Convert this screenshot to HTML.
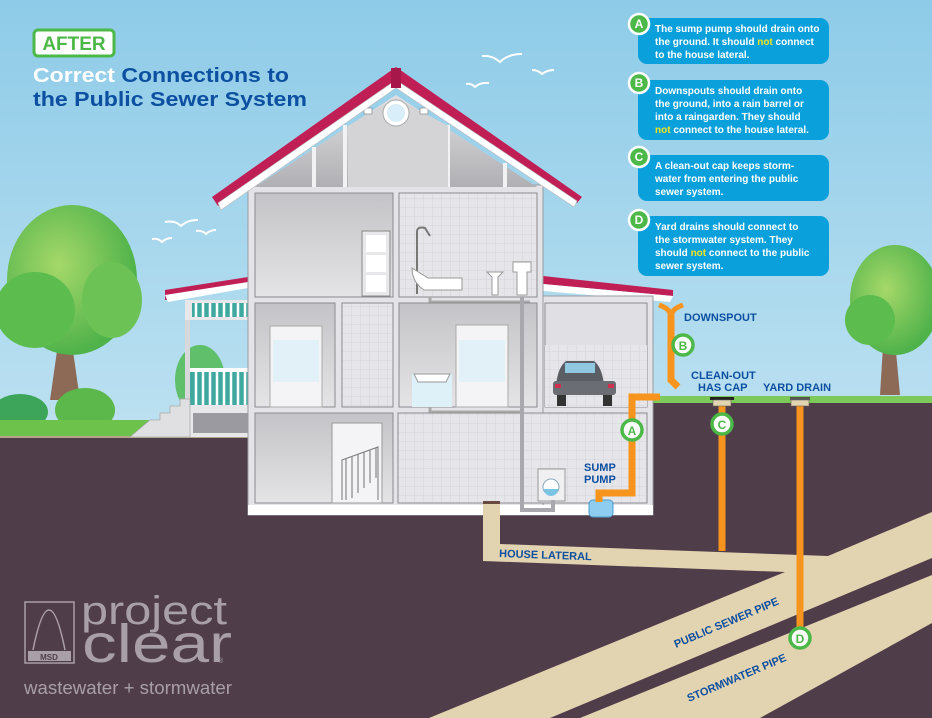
<!DOCTYPE html>
<html><head><meta charset="utf-8"><style>
html,body{margin:0;padding:0;background:#fff}
svg{display:block}
text{font-family:"Liberation Sans",sans-serif;font-weight:bold}
text.n{font-weight:normal}
</style></head><body>
<svg width="932" height="718" viewBox="0 0 932 718" xmlns="http://www.w3.org/2000/svg">
<defs>
<linearGradient id="sky" x1="0" y1="0" x2="0" y2="1">
<stop offset="0" stop-color="#8ecbe8"/><stop offset="0.55" stop-color="#b8dff0"/><stop offset="1" stop-color="#e6f3f9"/></linearGradient>
<linearGradient id="room" x1="0" y1="0" x2="0" y2="1">
<stop offset="0" stop-color="#c4c4c8"/><stop offset="1" stop-color="#e4e4e6"/></linearGradient>
<linearGradient id="attic" x1="0" y1="0" x2="0" y2="1">
<stop offset="0" stop-color="#e0e0e2"/><stop offset="1" stop-color="#b0b0b4"/></linearGradient>
<pattern id="tile" width="9" height="9" patternUnits="userSpaceOnUse">
<rect width="9" height="9" fill="#e6e6ea"/><path d="M0 0H9M0 0V9" stroke="#cfcfd4" stroke-width="0.8"/></pattern>
<radialGradient id="tree" cx="0.4" cy="0.4" r="0.6"><stop offset="0" stop-color="#a6d86a"/><stop offset="1" stop-color="#4fb24a"/></radialGradient>
</defs>
<rect width="932" height="718" fill="url(#sky)"/>

<g stroke="#fff" stroke-width="2" fill="none">
<path d="M165 222 q10 -2 16 4 q6 -6 17 -6"/><path d="M196 231 q6 -1 10 3 q4 -4 10 -4"/><path d="M152 239 q6 -1 10 3 q4 -4 10 -4"/>
<path d="M482 56 q10 -1 18 6 q8 -8 22 -8"/><path d="M532 70 q6 0 10 4 q5 -4 12 -4"/><path d="M466 84 q5 -1 9 3 q5 -5 14 -4"/>
</g>

<path d="M50 400 L60 330 L70 330 L80 400Z" fill="#8c6a56"/>
<path d="M60 345 L40 325 M72 345 L100 318" stroke="#8c6a56" stroke-width="5"/>
<ellipse cx="72" cy="280" rx="65" ry="75" fill="url(#tree)"/>
<ellipse cx="35" cy="310" rx="40" ry="38" fill="#5cbc4e"/>
<ellipse cx="112" cy="300" rx="30" ry="38" fill="#6cc255"/>
<path d="M880 395 L884 330 L894 330 L900 395Z" fill="#8c6a56"/>
<ellipse cx="895" cy="300" rx="45" ry="55" fill="url(#tree)"/>
<ellipse cx="870" cy="320" rx="25" ry="25" fill="#5cbc4e"/>
<ellipse cx="20" cy="412" rx="28" ry="18" fill="#3da55a"/>
<ellipse cx="85" cy="410" rx="30" ry="22" fill="#5db84c"/>
<ellipse cx="200" cy="380" rx="25" ry="35" fill="#5fbf6a"/>

<rect x="0" y="420" width="170" height="17" fill="#6cc24a"/>
<rect x="652" y="396" width="280" height="8" fill="#7dc95a"/>
<path d="M0 437 H248 V403 H932 V718 H0Z" fill="#4f3e4a"/>
<rect x="0" y="436" width="248" height="2" fill="#b5a58a"/>

<path d="M165 290 L248 277 L248 285 L165 300Z" fill="#c01f56"/>
<path d="M165 295 L248 282 L248 288 L168 302Z" fill="#fff"/>
<rect x="185" y="300" width="63" height="20" fill="#e8e8ea"/>
<rect x="192" y="303" width="56" height="14" fill="#3fa9a0"/>
<g stroke="#fff" stroke-width="2.5"><path d="M196 303V317M203 303V317M210 303V317M217 303V317M224 303V317M231 303V317M238 303V317M245 303V317"/></g>
<rect x="185" y="320" width="5" height="117" fill="#d8d8da"/>
<rect x="190" y="368" width="58" height="37" fill="#3fa9a0"/>
<g stroke="#fff" stroke-width="2.5"><path d="M196 372V405M203 372V405M210 372V405M217 372V405M224 372V405M231 372V405M238 372V405M245 372V405"/></g>
<rect x="190" y="368" width="58" height="4" fill="#fff"/>
<rect x="190" y="405" width="58" height="32" fill="#e8e8ea"/>
<rect x="193" y="413" width="55" height="20" fill="#9a9aa0"/>
<path d="M130 437 L150 420 H160 V413 H170 V406 H180 V399 H190 V437Z" fill="#e0e0e2" stroke="#aaa" stroke-width="0.8"/>

<path d="M543 276 L673 290 L673 296 L543 284Z" fill="#c01f56"/>
<path d="M543 284 L673 296 L670 302 L543 291Z" fill="#fff"/>

<rect x="248" y="185" width="295" height="330" fill="#e4e4e8" stroke="#9a9aa0"/>
<rect x="543" y="296" width="110" height="219" fill="#e4e4e8" stroke="#9a9aa0"/>
<rect x="248" y="505" width="405" height="10" fill="#fff"/>
<path d="M255 187 L396 95 L537 187Z" fill="url(#attic)"/>
<path d="M314 187 V147 M345 187 V125 M448 187 V125 M505 187 V163" stroke="#f2f2f4" stroke-width="4"/>
<path d="M396 98 L348 126 V187 H448 V126Z" fill="#d4d4d7"/>
<circle cx="396" cy="113" r="13" fill="#fff" stroke="#aaa"/><circle cx="396" cy="113" r="9" fill="#d8eef8"/>
<rect x="364" y="108" width="8" height="6" fill="#fff" stroke="#888" stroke-width="0.7"/>
<rect x="420" y="108" width="8" height="6" fill="#fff" stroke="#888" stroke-width="0.7"/>
<path d="M212 197 L396 67 L582 197 L577 203 L396 80 L218 206Z" fill="#c01f56"/>
<path d="M218 203 L396 80 L577 201 L574 207 L396 88 L221 210Z" fill="#fff" stroke="#bbb" stroke-width="0.6"/>
<rect x="391" y="68" width="10" height="20" fill="#a8174a"/>

<rect x="255" y="193" width="138" height="104" fill="url(#room)" stroke="#8a8a90"/>
<rect x="399" y="193" width="138" height="104" fill="url(#tile)" stroke="#8a8a90"/>
<rect x="362" y="231" width="28" height="65" fill="#e8e8ea" stroke="#888"/>
<rect x="366" y="235" width="20" height="17" fill="#fff"/><rect x="366" y="255" width="20" height="17" fill="#fff"/><rect x="366" y="275" width="20" height="17" fill="#fff"/>
<path d="M417 294 V232 q0 -6 8 -4 L430 236" stroke="#777" stroke-width="2" fill="none"/>
<path d="M412 268 L428 278 H462 L462 290 H424 Q412 282 412 268Z" fill="#fff" stroke="#999"/>
<path d="M487 272 h16 l-5 5 v18 h-6 v-18z" fill="#fff" stroke="#999"/>
<path d="M513 262 h18 v10 h-4 v23 h-10 v-23 h-4z" fill="#fff" stroke="#999"/>
<path d="M430 297 V302 H530" stroke="#aaa" stroke-width="3" fill="none"/>

<rect x="255" y="303" width="80" height="104" fill="url(#room)" stroke="#8a8a90"/>
<rect x="342" y="303" width="51" height="104" fill="url(#tile)" stroke="#8a8a90"/>
<rect x="399" y="303" width="138" height="104" fill="url(#room)" stroke="#8a8a90"/>
<rect x="545" y="303" width="102" height="104" fill="#e0e0e4" stroke="#8a8a90"/>
<rect x="545" y="345" width="102" height="62" fill="url(#tile)"/>
<rect x="270" y="326" width="52" height="81" fill="#f4f4f6" stroke="#aaa"/>
<rect x="273" y="340" width="46" height="42" fill="#e2f1f8"/>
<rect x="456" y="325" width="52" height="82" fill="#f4f4f6" stroke="#aaa"/>
<rect x="459" y="340" width="46" height="42" fill="#e2f1f8"/>
<rect x="412" y="374" width="40" height="33" fill="#def0f8"/>
<path d="M414 374 h36 l-4 8 h-28z" fill="#fff" stroke="#999"/>
<path d="M556 385 q2 -18 10 -24 h28 q8 6 10 24z" fill="#5b5d64"/>
<rect x="565" y="363" width="30" height="10" fill="#8fc8e0"/>
<rect x="553" y="381" width="63" height="14" rx="3" fill="#6b6d74"/>
<rect x="557" y="395" width="9" height="11" fill="#333"/><rect x="603" y="395" width="9" height="11" fill="#333"/>
<rect x="555" y="384" width="6" height="4" fill="#d03050"/><rect x="608" y="384" width="6" height="4" fill="#d03050"/>
<path d="M430 407 V412 H520" stroke="#aaa" stroke-width="3" fill="none"/>

<rect x="255" y="413" width="138" height="90" fill="url(#room)" stroke="#8a8a90"/>
<rect x="398" y="413" width="249" height="90" fill="url(#tile)" stroke="#8a8a90"/>
<rect x="332" y="423" width="50" height="80" fill="#f4f4f6" stroke="#999"/>
<path d="M342 500 V460 L378 447 V500" fill="none" stroke="#777" stroke-width="1"/>
<g stroke="#888" stroke-width="1.2"><path d="M346 458V500M352 456V498M358 454V493M364 452V488M370 450V483M376 448V478"/></g>
<rect x="538" y="469" width="27" height="32" fill="#f0f0f2" stroke="#999"/>
<circle cx="551" cy="487" r="8" fill="#fff" stroke="#8ab"/><path d="M544 489 h14 a7 7 0 0 1 -14 0z" fill="#7cc4e4"/>
<path d="M522 297 V510 H553 V500" stroke="#a8a8ae" stroke-width="4" fill="none"/>

<path d="M483 503 H500 V544 L828 556 L932 512 V558 L550 718 H429 L785 572 L483 561Z" fill="#e3d4b1"/>
<rect x="483" y="501" width="17" height="3" fill="#6a4a40"/>
<path d="M580 718 L932 575 V623 L760 718Z" fill="#e3d4b1"/>

<rect x="589" y="500" width="24" height="17" rx="4" fill="#8fcdf0" stroke="#4a9ccc"/>
<g stroke="#f7941d" stroke-width="7" fill="none">
<path d="M599 502 V493 H632 V397 H660"/>
<path d="M671 312 V380 L678 387"/>
<path d="M722 405 V551"/>
<path d="M800 405 V628"/>
</g>
<path d="M659 305 q12 4 12 12 q0 -8 12 -12" stroke="#f7941d" stroke-width="5" fill="none"/>
<rect x="710" y="397" width="24" height="3" fill="#222"/><rect x="713" y="400" width="18" height="6" fill="#e3d4b1" stroke="#665" stroke-width="0.6"/>
<rect x="790" y="397" width="20" height="3" fill="#555"/><rect x="791" y="400" width="18" height="6" fill="#e3d4b1" stroke="#665" stroke-width="0.6"/>

<g font-size="12" text-anchor="middle">
<circle cx="632" cy="430" r="10" fill="#fff" stroke="#4cb848" stroke-width="3.5"/><text x="632" y="435" fill="#4cb848">A</text>
<circle cx="683" cy="345" r="10" fill="#fff" stroke="#4cb848" stroke-width="3.5"/><text x="683" y="350" fill="#4cb848">B</text>
<circle cx="722" cy="424" r="10" fill="#fff" stroke="#4cb848" stroke-width="3.5"/><text x="722" y="429" fill="#4cb848">C</text>
<circle cx="800" cy="638" r="10" fill="#fff" stroke="#4cb848" stroke-width="3.5"/><text x="800" y="643" fill="#4cb848">D</text>
</g>

<g fill="#0d4fa0" font-size="11">
<text x="684" y="321">DOWNSPOUT</text>
<text x="691" y="379">CLEAN-OUT</text>
<text x="698" y="391">HAS CAP</text>
<text x="763" y="391">YARD DRAIN</text>
<text x="584" y="471">SUMP</text>
<text x="584" y="483">PUMP</text>
<text x="499" y="557" transform="rotate(2 499 557)">HOUSE LATERAL</text>
<text x="676" y="648" transform="rotate(-23 676 648)">PUBLIC SEWER PIPE</text>
<text x="689" y="702" transform="rotate(-23 689 702)">STORMWATER PIPE</text>
</g>

<rect x="34" y="30" width="80" height="26" rx="4" fill="#fff" stroke="#4cb848" stroke-width="3"/>
<text x="74" y="50" font-size="19" fill="#4cb848" text-anchor="middle">AFTER</text>
<text x="33" y="82" font-size="20" fill="#0d4fa0" textLength="256" lengthAdjust="spacingAndGlyphs"><tspan fill="#fff">Correct</tspan> Connections to</text>
<text x="33" y="106" font-size="20" fill="#0d4fa0" textLength="274" lengthAdjust="spacingAndGlyphs">the Public Sewer System</text>

<g font-size="10" fill="#fff">
<rect x="638" y="18" width="191" height="46" rx="9" fill="#0aa0dc"/>
<text x="655" y="32">The sump pump should drain onto</text>
<text x="655" y="45">the ground. It should <tspan fill="#f4e41c">not</tspan> connect</text>
<text x="655" y="58">to the house lateral.</text>
<rect x="638" y="80" width="191" height="60" rx="9" fill="#0aa0dc"/>
<text x="655" y="94">Downspouts should drain onto</text>
<text x="655" y="107">the ground, into a rain barrel or</text>
<text x="655" y="120">into a raingarden. They should</text>
<text x="655" y="133"><tspan fill="#f4e41c">not</tspan> connect to the house lateral.</text>
<rect x="638" y="155" width="191" height="46" rx="9" fill="#0aa0dc"/>
<text x="655" y="169">A clean-out cap keeps storm-</text>
<text x="655" y="182">water from entering the public</text>
<text x="655" y="195">sewer system.</text>
<rect x="638" y="216" width="191" height="60" rx="9" fill="#0aa0dc"/>
<text x="655" y="230">Yard drains should connect to</text>
<text x="655" y="243">the stormwater system. They</text>
<text x="655" y="256">should <tspan fill="#f4e41c">not</tspan> connect to the public</text>
<text x="655" y="269">sewer system.</text>
</g>
<g font-size="12" text-anchor="middle" fill="#fff">
<circle cx="639" cy="24" r="10" fill="#4cb848" stroke="#fff" stroke-width="2.5"/><text x="639" y="28">A</text>
<circle cx="639" cy="83" r="10" fill="#4cb848" stroke="#fff" stroke-width="2.5"/><text x="639" y="87">B</text>
<circle cx="639" cy="157" r="10" fill="#4cb848" stroke="#fff" stroke-width="2.5"/><text x="639" y="161">C</text>
<circle cx="639" cy="220" r="10" fill="#4cb848" stroke="#fff" stroke-width="2.5"/><text x="639" y="224">D</text>
</g>

<g fill="#a99fa7">
<rect x="25" y="602" width="49" height="61" fill="none" stroke="#a99fa7" stroke-width="1.5"/>
<path d="M33 650 Q49 570 65 650" fill="none" stroke="#a99fa7" stroke-width="1.5"/>
<rect x="28" y="651" width="43" height="10"/>
<text x="49" y="660" font-size="8" fill="#4f3e4a" text-anchor="middle">MSD</text>
<text class="n" x="81" y="624" font-size="40" textLength="146" lengthAdjust="spacingAndGlyphs">project</text>
<text class="n" x="82" y="662" font-size="54" textLength="150" lengthAdjust="spacingAndGlyphs">clear</text>
<text class="n" x="218" y="663" font-size="7">®</text>
<text class="n" x="24" y="694" font-size="18" textLength="208" lengthAdjust="spacingAndGlyphs">wastewater + stormwater</text>
</g>
</svg>
</body></html>
